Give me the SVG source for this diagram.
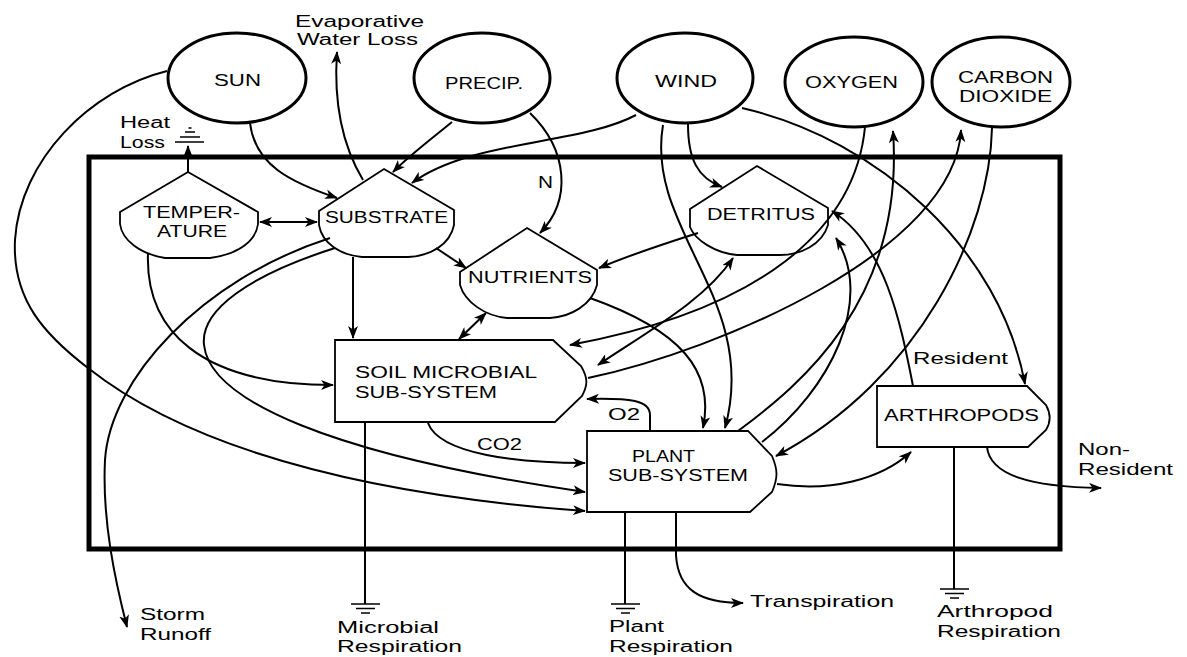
<svg xmlns="http://www.w3.org/2000/svg" width="1187" height="657" viewBox="0 0 1187 657">
<defs>
<marker id="ah" markerUnits="userSpaceOnUse" markerWidth="14" markerHeight="10" refX="12" refY="5" orient="auto-start-reverse" viewBox="0 0 14 10">
<path d="M0,0 L13,5 L0,10 L3.5,5 Z" fill="#000"/>
</marker>
<style>
.frame{fill:none;stroke:#000;stroke-width:5}
.src{fill:#fff;stroke:#000;stroke-width:3}
.nd{fill:#fff;stroke:#000;stroke-width:1.8}
.c{fill:none;stroke:#000;stroke-width:2}
.a{marker-end:url(#ah)}
.d{marker-start:url(#ah);marker-end:url(#ah)}
.g{stroke:#000;stroke-width:1.6}
text{font-family:"Liberation Sans",Arial,sans-serif;font-size:16px;fill:#000}
</style>
</defs>
<rect width="1187" height="657" fill="#fff"/>
<rect class="frame" x="89" y="157" width="971" height="392"/>

<g id="sun"><ellipse class="src" cx="237" cy="78" rx="69" ry="45"/><text x="214" y="86" textLength="47" lengthAdjust="spacingAndGlyphs">SUN</text></g>
<g id="precip"><ellipse class="src" cx="482" cy="78" rx="68" ry="45"/><text x="445" y="89" textLength="78" lengthAdjust="spacingAndGlyphs">PRECIP.</text></g>
<g id="wind"><ellipse class="src" cx="685" cy="78" rx="68" ry="45"/><text x="655" y="87" textLength="62" lengthAdjust="spacingAndGlyphs">WIND</text></g>
<g id="oxygen"><ellipse class="src" cx="854" cy="82" rx="69" ry="45"/><text x="805" y="88" textLength="93" lengthAdjust="spacingAndGlyphs">OXYGEN</text></g>
<g id="carbon-dioxide"><ellipse class="src" cx="1001" cy="82" rx="69" ry="45"/><text x="958" y="83" textLength="95" lengthAdjust="spacingAndGlyphs">CARBON</text><text x="959" y="102" textLength="93" lengthAdjust="spacingAndGlyphs">DIOXIDE</text></g>

<g id="temperature"><path class="nd" d="M188,172 L258,212 L258,224 C256,240 240,254 210,258 L165,258 C140,254 122,240 120,224 L120,212 Z"/><text x="143" y="218" textLength="97" lengthAdjust="spacingAndGlyphs">TEMPER-</text><text x="157" y="237" textLength="70" lengthAdjust="spacingAndGlyphs">ATURE</text></g>
<g id="substrate"><path class="nd" d="M384,169 L454,210 L454,225 C450,245 430,256 408,257 L362,257 C340,255 322,243 319,225 L319,211 Z"/><text x="325" y="223" textLength="123" lengthAdjust="spacingAndGlyphs">SUBSTRATE</text></g>
<g id="nutrients"><path class="nd" d="M527,228 L597,270 L597,285 C592,305 570,317 550,318 L507,318 C485,316 465,302 460,285 L460,272 Z"/><text x="468" y="283" textLength="124" lengthAdjust="spacingAndGlyphs">NUTRIENTS</text></g>
<g id="detritus"><path class="nd" d="M757,166 L828,208 L828,225 C822,245 800,255 780,255 L737,255 C715,253 695,240 690,227 L690,209 Z"/><text x="707" y="220" textLength="108" lengthAdjust="spacingAndGlyphs">DETRITUS</text></g>
<g id="soil-microbial"><path class="nd" d="M335,340 L553,340 L581,366 C588,378 588,385 582,396 L555,422 L335,422 Z"/><text x="355" y="378" textLength="182" lengthAdjust="spacingAndGlyphs">SOIL MICROBIAL</text><text x="355" y="398" textLength="142" lengthAdjust="spacingAndGlyphs">SUB-SYSTEM</text></g>
<g id="plant"><path class="nd" d="M587,431 L748,431 L772,456 C778,470 778,478 772,492 L750,512 L587,512 Z"/><text x="632" y="462" textLength="63" lengthAdjust="spacingAndGlyphs">PLANT</text><text x="608" y="481" textLength="140" lengthAdjust="spacingAndGlyphs">SUB-SYSTEM</text></g>
<g id="arthropods"><path class="nd" d="M877,386 L1027,386 L1046,405 C1051,414 1051,422 1046,430 L1028,447 L877,447 Z"/><text x="884" y="421" textLength="155" lengthAdjust="spacingAndGlyphs">ARTHROPODS</text></g>

<g id="connectors">
<path class="c a" d="M363,180 C345,150 333,110 337,52"/>
<path class="c a" d="M188,172 L188,146"/>
<path class="c a" d="M250,123 C255,165 290,182 337,198"/>
<path class="c a" d="M452,122 C430,140 410,155 393,172"/>
<path class="c a" d="M636,115 C580,145 470,140 412,183"/>
<path class="c a" d="M530,113 C568,150 572,200 540,233"/>
<path class="c d" d="M260,222 L317,222"/>
<path class="c a" d="M436,248 L466,268"/>
<path class="c a" d="M353,257 L353,338"/>
<path class="c d" d="M486,313 L459,339"/>
<path class="c a" d="M148,253 C145,330 200,385 333,385"/>
<path class="c a" d="M330,238 C200,280 110,380 105,460 C102,520 115,580 127,627"/>
<path class="c a" d="M335,248 C250,275 200,310 204,345 C210,400 330,455 585,492"/>
<path class="c a" d="M167,71 C90,90 20,160 15,240 C12,300 45,335 88,368 C160,425 300,490 585,511"/>
<path class="c a" d="M428,423 C440,455 520,463 585,463"/>
<path class="c a" d="M650,431 L650,415 C650,400 630,398 587,399"/>
<path class="c a" d="M688,124 C688,160 698,178 722,187"/>
<path class="c a" d="M698,233 C660,245 630,255 599,268"/>
<path class="c a" d="M663,125 C645,230 760,300 725,428"/>
<path class="c a" d="M590,298 C680,330 715,370 703,428"/>
<path class="c d" d="M598,365 C650,330 705,300 733,258"/>
<path class="c a" d="M865,127 C855,230 760,310 570,345"/>
<path class="c a" d="M588,378 C720,350 955,250 961,130"/>
<path class="c a" d="M738,431 C800,385 905,300 893,131"/>
<path class="c a" d="M762,442 C830,390 875,300 836,238"/>
<path class="c a" d="M992,128 C990,230 920,380 776,456"/>
<path class="c a" d="M913,386 C900,320 885,245 832,211"/>
<path class="c a" d="M742,108 C880,140 1000,250 1025,384"/>
<path class="c a" d="M777,484 C830,492 880,480 911,452"/>
<path class="c a" d="M987,447 C990,475 1030,487 1101,488"/>
<path class="c a" d="M676,512 L676,555 C678,590 700,603 743,603"/>
<path class="c" d="M365,422 L365,604"/>
<path class="c" d="M625,512 L625,604"/>
<path class="c" d="M954,447 L954,589"/>
</g>

<g id="sinks">
<path class="g" d="M175,142 H204 M180,137 H200 M185,132 H195 M188.5,128 H191.5"/>
<path class="g" d="M351,604 H380 M356,608.5 H375 M361,613 H370"/>
<path class="g" d="M611,604 H640 M616,608.5 H635 M621,613 H630"/>
<path class="g" d="M940,589 H969 M945,593.5 H964 M950,598 H959"/>
</g>

<g id="labels">
<text x="295" y="27" textLength="129" lengthAdjust="spacingAndGlyphs">Evaporative</text>
<text x="297" y="45" textLength="121" lengthAdjust="spacingAndGlyphs">Water Loss</text>
<text x="120" y="128" textLength="50" lengthAdjust="spacingAndGlyphs">Heat</text>
<text x="120" y="148" textLength="45" lengthAdjust="spacingAndGlyphs">Loss</text>
<text x="538" y="188" textLength="15" lengthAdjust="spacingAndGlyphs">N</text>
<text x="913" y="364" textLength="95" lengthAdjust="spacingAndGlyphs">Resident</text>
<text x="608" y="420" textLength="32" lengthAdjust="spacingAndGlyphs">O2</text>
<text x="477" y="450" textLength="45" lengthAdjust="spacingAndGlyphs">CO2</text>
<text x="1078" y="455" textLength="52" lengthAdjust="spacingAndGlyphs">Non-</text>
<text x="1078" y="475" textLength="95" lengthAdjust="spacingAndGlyphs">Resident</text>
<text x="750" y="607" textLength="144" lengthAdjust="spacingAndGlyphs">Transpiration</text>
<text x="140" y="620" textLength="65" lengthAdjust="spacingAndGlyphs">Storm</text>
<text x="140" y="640" textLength="71" lengthAdjust="spacingAndGlyphs">Runoff</text>
<text x="337" y="633" textLength="102" lengthAdjust="spacingAndGlyphs">Microbial</text>
<text x="337" y="652" textLength="125" lengthAdjust="spacingAndGlyphs">Respiration</text>
<text x="609" y="632" textLength="55" lengthAdjust="spacingAndGlyphs">Plant</text>
<text x="609" y="652" textLength="124" lengthAdjust="spacingAndGlyphs">Respiration</text>
<text x="937" y="617" textLength="116" lengthAdjust="spacingAndGlyphs">Arthropod</text>
<text x="937" y="637" textLength="124" lengthAdjust="spacingAndGlyphs">Respiration</text>
</g>
</svg>
